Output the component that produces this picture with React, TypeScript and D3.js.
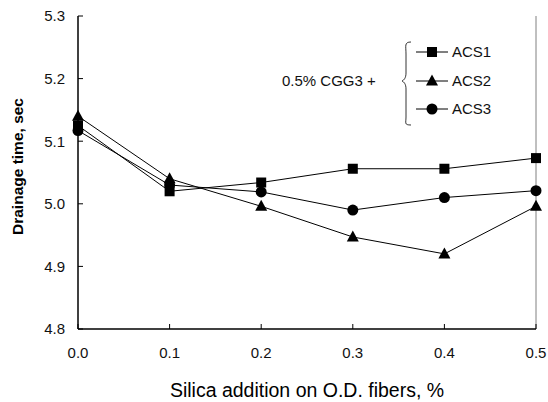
import React from "react";
import * as d3 from "d3";

const silica = [0.0, 0.1, 0.2, 0.3, 0.4, 0.5];
const acs1 = [5.125, 5.02, 5.034, 5.056, 5.056, 5.073];
const acs2 = [5.14, 5.04, 4.996, 4.947, 4.92, 4.996];
const acs3 = [5.117, 5.03, 5.019, 4.99, 5.01, 5.021];
const xTicks = [0.0, 0.1, 0.2, 0.3, 0.4, 0.5];
const yTicks = [4.8, 4.9, 5.0, 5.1, 5.2, 5.3];
const seriesNames = ["ACS1", "ACS2", "ACS3"];
const legendPrefix = "0.5% CGG3 +";

const W = 548;
const H = 402;
const margin = { top: 16, right: 12, bottom: 73, left: 78 };
const font = "'Liberation Sans', Arial, sans-serif";

function Marker({ kind, x, y }: { kind: string; x: number; y: number }) {
  if (kind === "square") {
    return <rect x={x - 5} y={y - 5} width={10} height={10} fill="#000" />;
  }
  if (kind === "triangle") {
    return <path d={`M${x},${y - 6.5}L${x + 6},${y + 4.5}L${x - 6},${y + 4.5}Z`} fill="#000" />;
  }
  return <circle cx={x} cy={y} r={5.5} fill="#000" />;
}

export default function App() {
  const x = d3
    .scaleLinear()
    .domain([0, 0.5])
    .range([margin.left, W - margin.right]);
  const y = d3
    .scaleLinear()
    .domain([4.8, 5.3])
    .range([H - margin.bottom, margin.top]);

  const line = d3
    .line<number>()
    .x((d, i) => x(silica[i]))
    .y((d) => y(d));

  const series = [
    { name: seriesNames[0], values: acs1, kind: "square" },
    { name: seriesNames[1], values: acs2, kind: "triangle" },
    { name: seriesNames[2], values: acs3, kind: "circle" },
  ];

  const x0 = x(0);
  const x1 = x(0.5);
  const y0 = y(4.8);
  const y1 = y(5.3);

  // legend position
  const legX = 416;
  const legY = [52, 81, 109];

  return (
    <svg
      width={W}
      height={H}
      style={{ position: "absolute", left: 0, top: 0, background: "#fff" }}
      fontFamily={font}
    >
      <rect width={W} height={H} fill="#fff" />
      {/* right frame */}
      <line x1={x1} x2={x1} y1={y1} y2={y0} stroke="#808080" strokeWidth={1} />

      {/* series */}
      {series.map((s) => (
        <g key={s.name}>
          <path d={line(s.values) || ""} fill="none" stroke="#000" strokeWidth={1} />
          {s.values.map((v, i) => (
            <Marker key={i} kind={s.kind} x={x(silica[i])} y={y(v)} />
          ))}
        </g>
      ))}

      {/* axes */}
      <line x1={x0} x2={x0} y1={y1} y2={y0} stroke="#000" strokeWidth={1.5} />
      <line x1={x0} x2={x1} y1={y0} y2={y0} stroke="#000" strokeWidth={1.5} />
      {yTicks.map((t) => (
        <g key={t}>
          <line x1={x0} x2={x0 + 5} y1={y(t)} y2={y(t)} stroke="#000" />
          <text x={x0 - 13} y={y(t)} dy="0.36em" textAnchor="end" fontSize={15} fill="#111">
            {d3.format(".1f")(t)}
          </text>
        </g>
      ))}
      {xTicks.map((t) => (
        <g key={t}>
          <line x1={x(t)} x2={x(t)} y1={y0} y2={y0 - 5} stroke="#000" />
          <text x={x(t)} y={y0 + 29} textAnchor="middle" fontSize={15} fill="#111">
            {d3.format(".1f")(t)}
          </text>
        </g>
      ))}

      {/* axis titles */}
      <text
        transform={`translate(23,${(y0 + y1) / 2 - 6}) rotate(-90)`}
        textAnchor="middle"
        fontSize={15.5}
        fontWeight="bold"
        fill="#000"
      >
        Drainage time, sec
      </text>
      <text x={307} y={397} textAnchor="middle" fontSize={19.5} fill="#000" fontWeight="500">
        Silica addition on O.D. fibers, %
      </text>

      {/* legend */}
      <text x={282} y={86} fontSize={15} fill="#111">
        {legendPrefix}
      </text>
      <path
        d={`M${legX - 5},${legY[0] - 10} C${legX - 12},${legY[0] - 10} ${legX - 10},${legY[0] - 6} ${legX - 10},${legY[0] + 2}
           L${legX - 10},${legY[1] - 8} C${legX - 10},${legY[1] - 3} ${legX - 12},${legY[1] - 1} ${legX - 14},${legY[1]}
           C${legX - 12},${legY[1] + 1} ${legX - 10},${legY[1] + 3} ${legX - 10},${legY[1] + 8}
           L${legX - 10},${legY[2] + 8} C${legX - 10},${legY[2] + 14} ${legX - 12},${legY[2] + 16} ${legX - 5},${legY[2] + 16}`}
        fill="none"
        stroke="#000"
        strokeWidth={0.8}
      />
      {series.map((s, i) => (
        <g key={s.name}>
          <line x1={legX} x2={legX + 32} y1={legY[i]} y2={legY[i]} stroke="#000" />
          <Marker kind={s.kind} x={legX + 16} y={legY[i]} />
          <text x={legX + 36} y={legY[i]} dy="0.36em" fontSize={15} fill="#111">
            {s.name}
          </text>
        </g>
      ))}
    </svg>
  );
}
